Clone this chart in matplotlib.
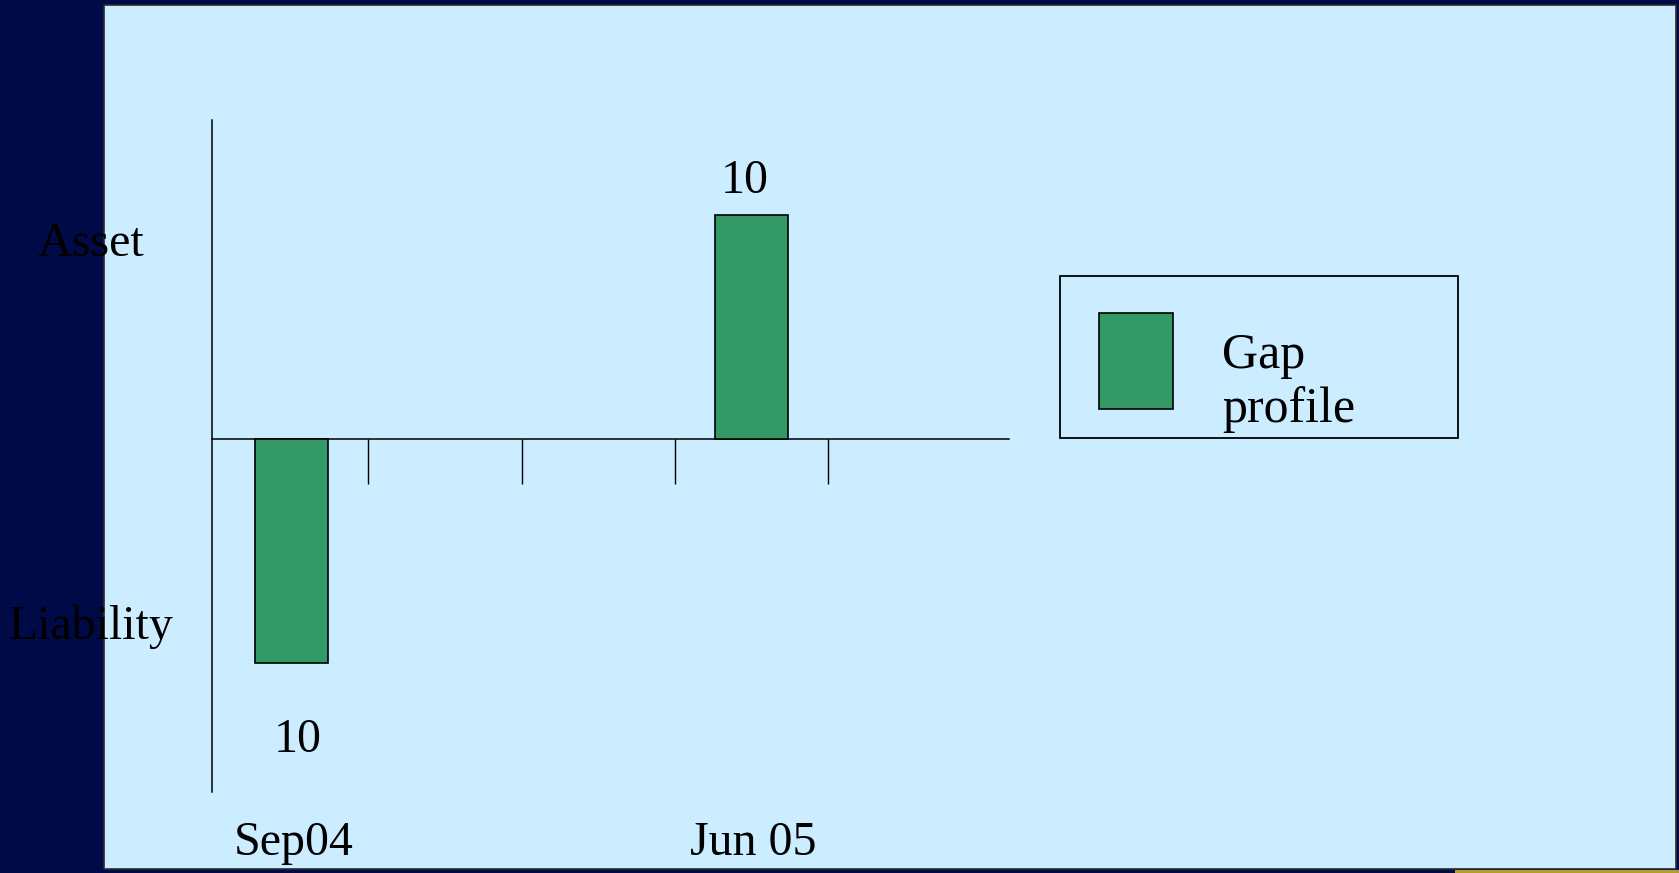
import matplotlib.pyplot as plt
from matplotlib.patches import Rectangle
from matplotlib.legend_handler import HandlerPatch
from matplotlib.transforms import blended_transform_factory

plt.rcParams['font.family'] = ['Liberation Serif', 'DejaVu Serif']

# data
categories = ["Sep04", "Dec04", "Mar05", "Jun 05"]
shown_labels = ["Sep04", "", "", "Jun 05"]
gap = [-10, 0, 0, 10]
side_labels = ["Asset", "Liability"]
side_pos = [8.9, -8.2]

NAVY = "#000A46"
PANEL = "#CCECFF"
GREEN = "#339966"
FS = 34.5

W, H = 1679, 873
PX = 0.72  # points per pixel at dpi 100


class SlideKeyHandler(HandlerPatch):
    """Legend key drawn high in a tall box so the label sits lower, like the slide."""

    def legend_artist(self, legend, orig_handle, fontsize, handlebox):
        asc, desc = 119.5 * PX, 10 * PX
        handlebox.height = asc + desc
        handlebox.ydescent = desc
        p = Rectangle((34 * PX, -8.5 * PX), 74 * PX, 96 * PX,
                      facecolor=orig_handle.get_facecolor(), edgecolor="black",
                      linewidth=1.2, transform=handlebox.get_transform())
        handlebox.add_artist(p)
        return p


fig = plt.figure(figsize=(W / 100, H / 100), dpi=100, facecolor=NAVY)

# light slide panel
fig.patches.append(Rectangle((104 / W, 4 / H), (1676 - 104) / W, (868 - 4) / H,
                             transform=fig.transFigure, facecolor=PANEL,
                             edgecolor="#2a2a2a", linewidth=1.2, zorder=-2))
# small gold strip at the bottom right
fig.patches.append(Rectangle((1455 / W, 0), (W - 1455) / W, 3 / H,
                             transform=fig.transFigure, facecolor="#B59A38",
                             edgecolor="none", zorder=-2))

ax = fig.add_axes([212 / W, (H - 792) / H, (1009 - 212) / W, (792 - 120) / H])
ax.set_facecolor("none")

x = list(range(len(categories)))
bars = ax.bar(x, gap, width=0.48, color=GREEN, edgecolor="black",
              linewidth=1.2, label="Gap\nprofile", zorder=3)
for p, v in zip(bars.patches, gap):
    if v == 0:
        p.set_visible(False)

for xi, v in zip(x, gap):
    if v > 0:
        ax.annotate(f"{abs(v):g}", (xi, v), xytext=(-5, 24), textcoords="offset points",
                    ha="center", va="center", fontsize=FS)
    elif v < 0:
        ax.annotate(f"{abs(v):g}", (xi, v), xytext=(4, -56), textcoords="offset points",
                    ha="center", va="center", fontsize=FS)

ax.set_xlim(-0.52, 4.68)
ax.set_ylim(-15.78, 14.22)

for s in ["top", "right"]:
    ax.spines[s].set_visible(False)
ax.spines["bottom"].set_position(("data", 0))
ax.spines["bottom"].set_linewidth(1.1)
ax.spines["left"].set_linewidth(1.1)

# tick marks between categories
ax.set_xticks([i + 0.5 for i in x], [""] * len(x))
ax.tick_params(axis="x", direction="out", length=32.4, width=1.0, color="black")

# category labels under the plot
trans = blended_transform_factory(ax.transData, ax.transAxes)
for xi, lab in zip(x, shown_labels):
    if lab:
        ax.text(xi + 0.01, -0.076, lab, transform=trans, ha="center", va="center", fontsize=FS)

ax.set_yticks(side_pos, side_labels)
ax.tick_params(axis="y", length=0, pad=87, labelsize=FS)
for t in ax.get_yticklabels():
    t.set_horizontalalignment("center")

leg = fig.legend(handles=[bars.patches[-1]], labels=["Gap\nprofile"], loc="upper left",
                 bbox_to_anchor=(1060 / W, (H - 276) / H, 398 / W, 0), mode="expand",
                 borderaxespad=0, fontsize=36, handlelength=108 * PX / 36,
                 handletextpad=49 * PX / 36, borderpad=0.1, fancybox=False, framealpha=1,
                 facecolor=PANEL, edgecolor="black",
                 handler_map={Rectangle: SlideKeyHandler()})
leg.get_frame().set_linewidth(1.3)

fig.savefig("out.png", dpi=100, facecolor=NAVY)
